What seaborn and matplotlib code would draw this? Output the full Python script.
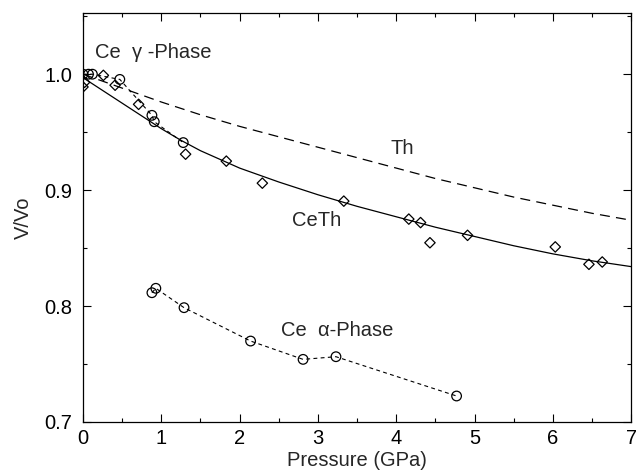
import matplotlib
matplotlib.use('Agg')
import matplotlib.pyplot as plt
import seaborn as sns
from matplotlib.ticker import MultipleLocator, FormatStrFormatter

sns.set_theme(style='ticks')
plt.rcParams['font.family'] = ['Liberation Sans', 'DejaVu Sans']
plt.rcParams['axes.unicode_minus'] = False

# Ce gamma-phase (circles, fine dashed link)
gamma_p = [0.0, 0.07, 0.12, 0.47, 0.88, 0.91, 1.28]
gamma_v = [1.000, 1.000, 1.000, 0.9955, 0.9645, 0.959, 0.941]

# Ce alpha-phase (circles, fine dashed link)
alpha_p = [0.88, 0.93, 1.29, 2.14, 2.81, 3.23, 4.77]
alpha_v = [0.8115, 0.8153, 0.7986, 0.7698, 0.754, 0.7563, 0.7224]

# CeTh measured (diamonds)
ceth_p = [0.0, 0.02, 0.26, 0.41, 0.71, 1.31, 1.83, 2.29, 3.33, 4.16, 4.31, 4.43, 4.91, 6.03, 6.46, 6.63]
ceth_v = [0.989, 0.993, 0.999, 0.9905, 0.974, 0.931, 0.925, 0.906, 0.8905, 0.875, 0.872, 0.8546, 0.861, 0.851, 0.836, 0.838]

# CeTh fit (solid) and Th (long dashes)
fit_p = [0.0, 0.25, 0.5, 0.75, 1.0, 1.25, 1.5, 2.0, 2.5, 3.0, 3.5, 4.0, 4.5, 5.0, 5.5, 6.0, 6.5, 7.0]
ceth_fit_v = [0.997, 0.986, 0.975, 0.964, 0.953, 0.943, 0.934, 0.919, 0.907, 0.896, 0.886, 0.877, 0.868,
              0.860, 0.852, 0.845, 0.839, 0.834]
th_p = [0.0, 0.5, 1.0, 1.5, 2.0, 2.5, 3.0, 3.5, 4.0, 4.5, 5.0, 5.5, 6.0, 6.5, 7.0]
th_v = [1.000, 0.988, 0.976, 0.965, 0.955, 0.946, 0.937, 0.928, 0.919, 0.910, 0.902, 0.894, 0.887, 0.880, 0.874]

FS = 14.5

fig = plt.figure(figsize=(6.36, 4.72), dpi=100)
ax = fig.add_axes([0.1305, 0.106, 0.862, 0.866])

sns.lineplot(x=fit_p, y=ceth_fit_v, ax=ax, color='black', linewidth=0.9, sort=False, estimator=None)
sns.lineplot(x=th_p, y=th_v, ax=ax, color='black', linewidth=0.9, sort=False, estimator=None)
ax.lines[-1].set_dashes([8, 5])
for p, v in [(gamma_p, gamma_v), (alpha_p, alpha_v)]:
    sns.lineplot(x=p, y=v, ax=ax, color='black', linewidth=0.8, sort=False, estimator=None)
    ax.lines[-1].set_dashes([3.5, 3])

sns.scatterplot(x=gamma_p + alpha_p, y=gamma_v + alpha_v, ax=ax, marker='o', s=48,
                facecolor='none', edgecolor='black', linewidth=0.9, zorder=5)
sns.scatterplot(x=ceth_p, y=ceth_v, ax=ax, marker='D', s=28,
                facecolor='none', edgecolor='black', linewidth=0.9, zorder=5)

ax.text(0.15, 1.019, 'Ce  γ -Phase', fontsize=FS, va='center', ha='left')
ax.text(4.08, 0.936, 'Th', fontsize=FS, va='center', ha='center')
ax.text(2.98, 0.874, 'CeTh', fontsize=FS, va='center', ha='center')
ax.text(2.53, 0.7787, 'Ce  α-Phase', fontsize=FS, va='center', ha='left')

ax.set_xlim(0, 7)
ax.set_ylim(0.7, 1.0526)
ax.xaxis.set_major_locator(MultipleLocator(1))
ax.xaxis.set_minor_locator(MultipleLocator(0.5))
ax.yaxis.set_major_locator(MultipleLocator(0.1))
ax.yaxis.set_minor_locator(MultipleLocator(0.05))
ax.yaxis.set_major_formatter(FormatStrFormatter('%.1f'))
ax.tick_params(which='both', direction='in', top=True, right=True, labelsize=FS, colors='black', width=0.8)
ax.tick_params(which='major', length=6)
ax.tick_params(which='minor', length=3)
ax.tick_params(axis='x', pad=5)
ax.tick_params(axis='y', pad=8)
for s in ax.spines.values():
    s.set_color('black')
    s.set_linewidth(0.9)
ax.set_xlabel('Pressure (GPa)', fontsize=FS, labelpad=2)
ax.set_ylabel('V/Vo', fontsize=FS, labelpad=8)

fig.savefig('out.png', dpi=100)
